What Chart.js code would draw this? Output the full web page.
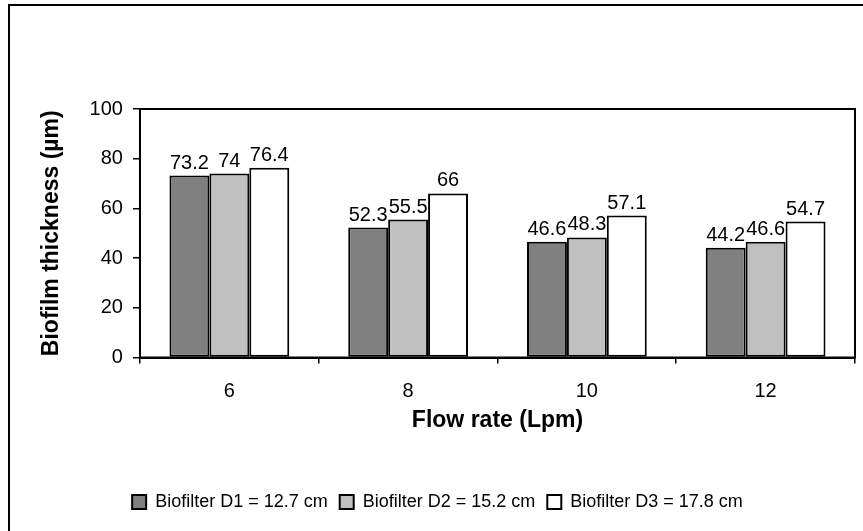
<!DOCTYPE html>
<html>
<head>
<meta charset="utf-8">
<script src="https://cdn.jsdelivr.net/npm/chart.js@4/dist/chart.umd.min.js"></script>
<style>
  html, body { margin: 0; padding: 0; background: #fff; }
  #wrap { width: 863px; height: 531px; position: relative; }
</style>
</head>
<body>
<div id="wrap"><canvas id="chart" width="863" height="531"></canvas></div>
<script>
// ─── Biofilm thickness by flow rate ───
const flowRates = ['6', '8', '10', '12'];
const seriesNames = ['Biofilter D1 = 12.7 cm', 'Biofilter D2 = 15.2 cm', 'Biofilter D3 = 17.8 cm'];
const d1Values = [73.2, 52.3, 46.6, 44.2];
const d2Values = [74, 55.5, 48.3, 46.6];
const d3Values = [76.4, 66, 57.1, 54.7];
const yTicks = [0, 20, 40, 60, 80, 100];

const FONT = "'Liberation Sans', Arial, sans-serif";
const fills = ['#808080', '#c0c0c0', '#ffffff'];

// outer frame + plot box
const frame = {
  id: 'frame',
  beforeDraw(chart) {
    const ctx = chart.ctx;
    ctx.save();
    ctx.fillStyle = '#fff';
    ctx.fillRect(0, 0, chart.width, chart.height);
    ctx.strokeStyle = '#000';
    ctx.lineWidth = 2;
    ctx.beginPath();
    ctx.moveTo(9, chart.height);
    ctx.lineTo(9, 5);
    ctx.lineTo(chart.width, 5);
    ctx.stroke();
    ctx.restore();
  },
  afterDatasetsDraw(chart) {
    const { ctx, chartArea: a } = chart;
    ctx.save();
    ctx.strokeStyle = '#000';
    ctx.lineWidth = 2;
    ctx.strokeRect(a.left, a.top, a.right - a.left, a.bottom - a.top);
    ctx.restore();
  }
};

// value labels above each bar
const valueLabels = {
  id: 'valueLabels',
  afterDatasetsDraw(chart) {
    const ctx = chart.ctx;
    ctx.save();
    ctx.font = '20px ' + FONT;
    ctx.fillStyle = '#000';
    ctx.textAlign = 'center';
    ctx.textBaseline = 'alphabetic';
    chart.data.datasets.forEach((ds, i) => {
      chart.getDatasetMeta(i).data.forEach((bar, j) => {
        ctx.fillText(String(ds.data[j]), bar.x, bar.y - 7);
      });
    });
    ctx.restore();
  }
};

const mk = (label, data, i) => ({
  label, data,
  backgroundColor: fills[i],
  borderColor: '#000',
  borderWidth: 2,
  borderSkipped: false,
  categoryPercentage: 0.67,
  barPercentage: 1.0
});

new Chart(document.getElementById('chart'), {
  type: 'bar',
  data: {
    labels: flowRates,
    datasets: [mk(seriesNames[0], d1Values, 0), mk(seriesNames[1], d2Values, 1), mk(seriesNames[2], d3Values, 2)]
  },
  options: {
    responsive: false,
    animation: false,
    events: [],
    layout: { padding: { left: 20, right: 8, top: 109, bottom: 10 } },
    plugins: {
      tooltip: { enabled: false },
      legend: {
        position: 'bottom',
        labels: { color: '#000', font: { family: FONT, size: 18 }, boxWidth: 14, boxHeight: 14, padding: 12 }
      }
    },
    scales: {
      x: {
        afterFit: s => { s.height = 123.5; },
        grid: { display: true, offset: true, drawOnChartArea: false, drawTicks: true, tickLength: 6, color: '#000', lineWidth: 1.5 },
        border: { display: true, color: '#000', width: 2 },
        ticks: { color: '#000', font: { family: FONT, size: 20 }, padding: 16 },
        title: { display: true, text: 'Flow rate (Lpm)', color: '#000', font: { family: FONT, size: 23, weight: 'bold' }, padding: { top: 0, bottom: 47 } }
      },
      y: {
        min: 0, max: 100,
        afterBuildTicks: s => { s.ticks = yTicks.map(v => ({ value: v })); },
        grid: { display: true, drawOnChartArea: false, drawTicks: true, tickLength: 7, color: '#000', lineWidth: 1.5 },
        border: { display: true, color: '#000', width: 2 },
        ticks: { color: '#000', font: { family: FONT, size: 20 }, padding: 10 },
        title: { display: true, text: 'Biofilm thickness (µm)', color: '#000', font: { family: FONT, size: 23, weight: 'bold' }, padding: { top: 18, bottom: 14 } }
      }
    }
  },
  plugins: [frame, valueLabels]
});
</script>
</body>
</html>
